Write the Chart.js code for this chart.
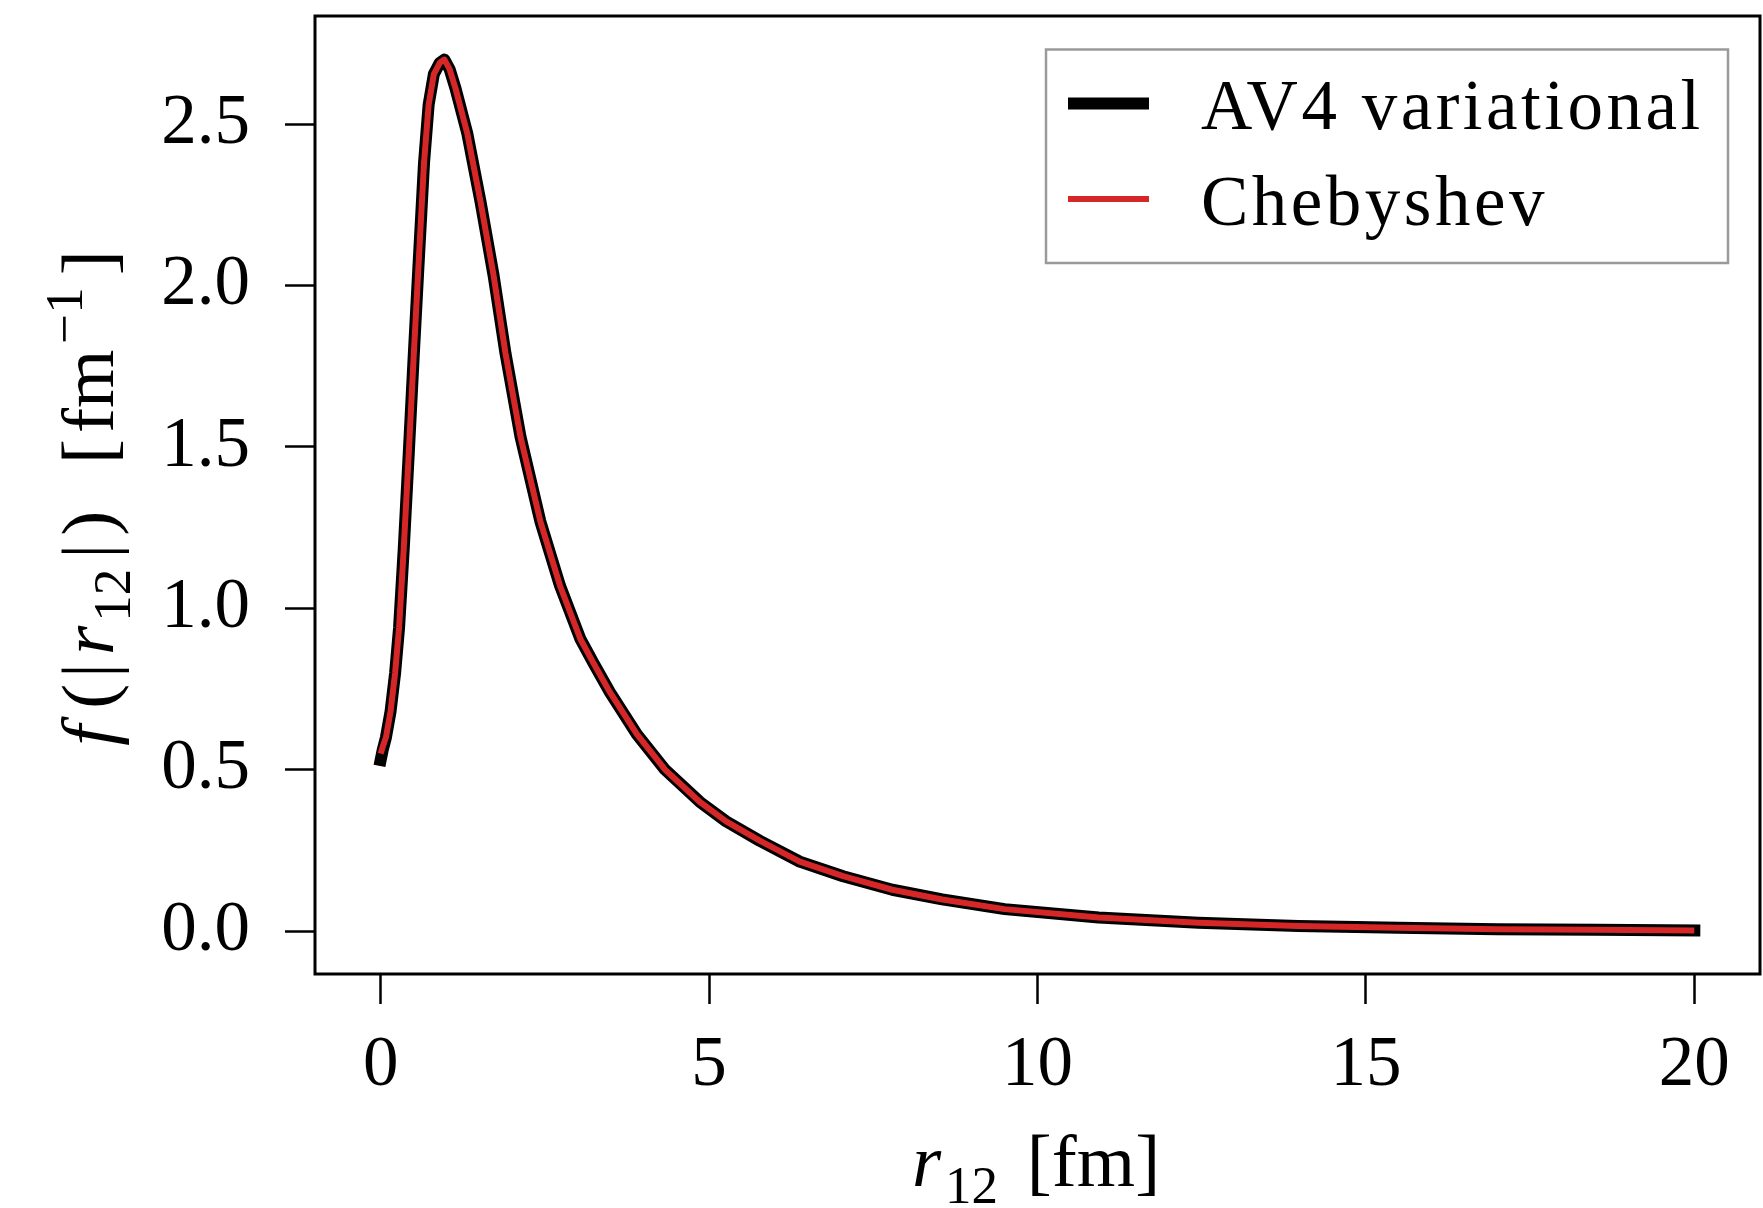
<!DOCTYPE html>
<html>
<head>
<meta charset="utf-8">
<script src="https://cdn.jsdelivr.net/npm/chart.js@4.4.1/dist/chart.umd.min.js"></script>
<style>
html, body { margin: 0; padding: 0; background: #fff; }
#myChart { display: block; }
</style>
</head>
<body>
<canvas id="myChart" width="1763" height="1208"></canvas>
<script>
// r12 grid [fm] and f(|r12|) [fm^-1]
const rValues = [0, 0.03, 0.08, 0.15, 0.22, 0.28, 0.35, 0.43, 0.50, 0.57, 0.66, 0.73, 0.81, 0.90, 0.97,
    1.05, 1.14, 1.32, 1.52, 1.72, 1.90, 2.13, 2.43, 2.73, 3.04, 3.24, 3.49, 3.90, 4.33, 4.86,
    5.26, 5.77, 6.38, 7.04, 7.79, 8.55, 9.50, 10.93, 12.45, 13.97, 15.5, 17.0, 18.5, 20.0];
const av4Values = [0.53, 0.56, 0.60, 0.68, 0.80, 0.94, 1.18, 1.49, 1.77, 2.04, 2.38, 2.56, 2.655, 2.69, 2.70,
    2.67, 2.61, 2.47, 2.26, 2.03, 1.79, 1.53, 1.27, 1.07, 0.905, 0.83, 0.74, 0.61, 0.50, 0.40,
    0.34, 0.28, 0.215, 0.17, 0.128, 0.098, 0.068, 0.042, 0.026, 0.016, 0.010, 0.006, 0.004, 0.002];
const chebValues = [0.55, 0.57, 0.60, 0.68, 0.80, 0.94, 1.18, 1.49, 1.77, 2.04, 2.38, 2.56, 2.655, 2.69, 2.70,
    2.67, 2.61, 2.47, 2.26, 2.03, 1.79, 1.53, 1.27, 1.07, 0.905, 0.83, 0.74, 0.61, 0.50, 0.40,
    0.34, 0.28, 0.215, 0.17, 0.128, 0.098, 0.068, 0.042, 0.026, 0.016, 0.010, 0.006, 0.004, 0.002];
const seriesLabels = ['AV4 variational', 'Chebyshev'];
const xTicks = [0, 5, 10, 15, 20];
const yTicks = [0, 0.5, 1.0, 1.5, 2.0, 2.5];

const FONT = '"Liberation Serif", "DejaVu Serif", serif';
const FS = 71;
const TITLE_FS = 75;

function runFont(run, size) {
    const s = (run.sub || run.sup) ? Math.round(size * 0.7) : size;
    return (run.it ? 'italic ' : '') + s + 'px ' + FONT;
}

// draws a line of mixed text (italic, sub, sup) centered on x, baseline on y
function drawRuns(ctx, runs, x, y, size, angle) {
    ctx.save();
    ctx.translate(x, y);
    ctx.rotate(angle);
    ctx.textBaseline = 'alphabetic';
    ctx.textAlign = 'left';
    ctx.fillStyle = '#000';
    let total = 0;
    runs.forEach(r => {
        ctx.font = runFont(r, size);
        total += ctx.measureText(r.t).width + (r.gap || 0);
    });
    let cx = -total / 2;
    runs.forEach(r => {
        ctx.font = runFont(r, size);
        const dy = r.sub ? size * 0.22 : (r.sup ? -size * 0.42 : 0);
        ctx.fillText(r.t, cx, dy);
        cx += ctx.measureText(r.t).width + (r.gap || 0);
    });
    ctx.restore();
}

const framePlugin = {
    id: 'frame',
    afterDraw(chart) {
        const ctx = chart.ctx;
        const a = chart.chartArea;
        ctx.save();
        ctx.strokeStyle = '#000';
        ctx.lineWidth = 3;
        ctx.strokeRect(a.left, a.top, a.right - a.left, a.bottom - a.top);

        // axis titles
        drawRuns(ctx, [{t: 'r', it: true, gap: 4}, {t: '12', sub: true, gap: 10}, {t: ' [fm]'}], 1036, 1186, TITLE_FS, 0);
        drawRuns(ctx, [{t: 'f', it: true, gap: 16}, {t: '(', gap: 6}, {t: '|', gap: 8}, {t: 'r', it: true, gap: 4},
            {t: '12', sub: true, gap: 10}, {t: '|', gap: 8}, {t: ')', gap: 6}, {t: ' ', gap: 22},
            {t: '[', gap: 6}, {t: 'fm', gap: 6}, {t: '\u22121', sup: true, gap: 12}, {t: ']'}],
            113, 498, TITLE_FS, -Math.PI / 2);

        // legend
        ctx.strokeStyle = '#9a9a9a';
        ctx.lineWidth = 2.5;
        ctx.strokeRect(1046, 49.5, 682, 213.5);
        const rows = [{ly: 103.5, ty: 129}, {ly: 199, ty: 225}];
        chart.data.datasets.forEach((ds, i) => {
            ctx.beginPath();
            ctx.strokeStyle = ds.borderColor;
            ctx.lineWidth = ds.borderWidth;
            ctx.lineCap = 'butt';
            ctx.moveTo(1068, rows[i].ly);
            ctx.lineTo(1149, rows[i].ly);
            ctx.stroke();
            ctx.fillStyle = '#000';
            ctx.font = FS + 'px ' + FONT;
            ctx.letterSpacing = '3.5px';
            ctx.textAlign = 'left';
            ctx.textBaseline = 'alphabetic';
            ctx.fillText(ds.label, 1201, rows[i].ty);
            ctx.letterSpacing = '0px';
        });
        ctx.restore();
    }
};

const ctx = document.getElementById('myChart').getContext('2d');

new Chart(ctx, {
    type: 'line',
    data: {
        datasets: [{
            label: seriesLabels[0],
            data: rValues.map((r, i) => ({x: r, y: av4Values[i]})),
            borderColor: '#000000',
            borderWidth: 12,
            borderCapStyle: 'square',
            borderJoinStyle: 'round',
            pointRadius: 0,
            tension: 0,
            fill: false,
            order: 2
        }, {
            label: seriesLabels[1],
            data: rValues.map((r, i) => ({x: r, y: chebValues[i]})),
            borderColor: '#d62728',
            borderWidth: 6,
            borderCapStyle: 'butt',
            borderJoinStyle: 'round',
            pointRadius: 0,
            tension: 0,
            fill: false,
            order: 1
        }]
    },
    options: {
        responsive: false,
        animation: false,
        layout: { padding: { top: 16, right: 3, left: 0, bottom: 0 } },
        plugins: {
            legend: { display: false },
            tooltip: { enabled: false }
        },
        scales: {
            x: {
                type: 'linear',
                min: -1,
                max: 21,
                afterBuildTicks: axis => { axis.ticks = xTicks.map(v => ({value: v})); },
                afterFit: scale => {
                    scale.height = 234;
                    scale.paddingLeft = 0;
                    scale.paddingRight = 0;
                },
                grid: { display: true, drawOnChartArea: false, drawTicks: true, tickLength: 30, tickWidth: 2.5, tickColor: '#000' },
                border: { display: false },
                ticks: {
                    color: '#000',
                    padding: 20,
                    maxRotation: 0,
                    font: { family: FONT, size: FS },
                    callback: v => String(v)
                }
            },
            y: {
                type: 'linear',
                min: -0.133,
                max: 2.835,
                afterBuildTicks: axis => { axis.ticks = yTicks.map(v => ({value: v})); },
                afterFit: scale => {
                    scale.width = 315;
                    scale.paddingTop = 0;
                    scale.paddingBottom = 0;
                },
                grid: { display: true, drawOnChartArea: false, drawTicks: true, tickLength: 30, tickWidth: 2.5, tickColor: '#000' },
                border: { display: false },
                ticks: {
                    color: '#000',
                    padding: 35,
                    font: { family: FONT, size: FS },
                    callback: v => v.toFixed(1)
                }
            }
        }
    },
    plugins: [framePlugin]
});
</script>
</body>
</html>
